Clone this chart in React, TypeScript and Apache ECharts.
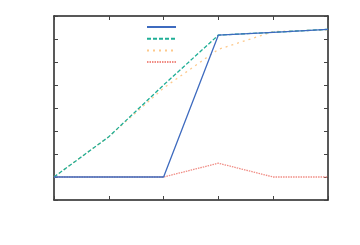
import React, { useEffect, useRef } from "react";
import * as echarts from "echarts";

const categories = [0, 1, 2, 3, 4, 5];
const seriesNames = ["s1", "s2", "s3", "s4"];
const blueValues = [0, 0, 0, 6.17, 6.29, 6.42];
const greenValues = [0, 1.75, 4.0, 6.17, 6.29, 6.42];
const orangeValues = [0, 1.75, 3.87, 5.55, 6.32, 6.4];
const redValues = [0, 0, 0, 0.6, 0, 0];

const toPairs = (vals: number[]) => vals.map((v, i) => [categories[i], v]);

export default function App() {
  const ref = useRef<HTMLDivElement>(null);
  useEffect(() => {
    if (!ref.current) return;
    const chart = echarts.init(ref.current, undefined, { renderer: "svg" });
    const axisLine = { show: true, onZero: false, lineStyle: { color: "#222", width: 1.5 } };
    const axisTick = { show: true, inside: true, length: 4, lineStyle: { color: "#444", width: 1 } };
    const xBase = {
      type: "value" as const,
      min: 0,
      max: 5,
      interval: 1,
      axisLine,
      axisTick,
      axisLabel: { show: false },
      splitLine: { show: false },
    };
    const yBase = {
      type: "value" as const,
      min: -1,
      max: 7,
      interval: 1,
      axisLine,
      axisTick,
      axisLabel: { show: false },
      splitLine: { show: false },
    };
    const mk = (name: string, vals: number[], color: string, type: any, z: number) => ({
      name,
      type: "line" as const,
      data: toPairs(vals),
      showSymbol: false,
      symbol: "none",
      z,
      lineStyle: { color, width: 1.3, type },
      itemStyle: { color },
    });
    chart.setOption({
      animation: false,
      grid: { left: 54, right: 32, top: 16, bottom: 45 },
      xAxis: [
        { ...xBase, position: "bottom" },
        { ...xBase, position: "top" },
      ],
      yAxis: [
        { ...yBase, position: "left" },
        { ...yBase, position: "right" },
      ],
      legend: {
        show: true,
        orient: "vertical",
        left: 141,
        top: 18,
        padding: 5,
        itemWidth: 29,
        itemHeight: 10,
        itemGap: 3.7,
        formatter: () => "",
        textStyle: { fontSize: 1, lineHeight: 1 },
        itemStyle: { opacity: 0 },
        data: seriesNames,
      },
      series: [
        mk(seriesNames[0], blueValues, "#3e6bbf", "solid", 4),
        mk(seriesNames[1], greenValues, "#1fae96", [4, 2], 3),
        mk(seriesNames[2], orangeValues, "#fdc98c", [2, 4], 2),
        mk(seriesNames[3], redValues, "#f08c84", [1.5, 1], 1),
      ],
    });
    return () => chart.dispose();
  }, []);
  return (
    <div
      ref={ref}
      style={{ position: "absolute", left: 0, top: 0, width: 360, height: 245 }}
    />
  );
}
